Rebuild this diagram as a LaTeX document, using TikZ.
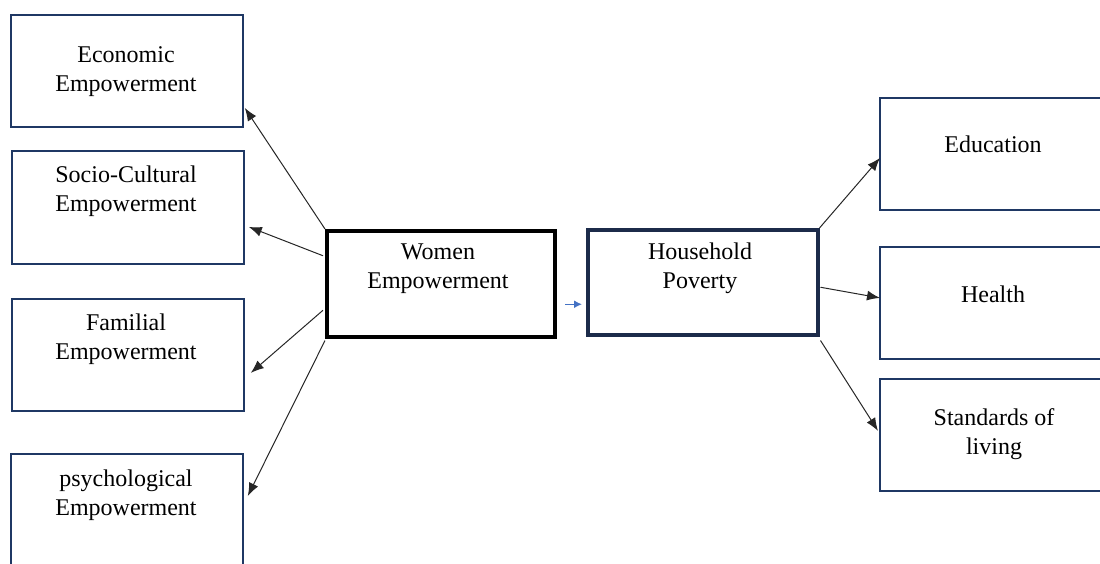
\documentclass[tikz,border=0pt]{standalone}
\usepackage{fontspec}
\setmainfont{Liberation Serif}
\usetikzlibrary{arrows.meta,calc}
\definecolor{navy}{HTML}{1F3864}
\definecolor{darknavy}{HTML}{1C2B4A}
\definecolor{arrowblue}{HTML}{4472C4}
\begin{document}
\begin{tikzpicture}[x=1pt,y=-1pt,
  box/.style={draw=navy, line width=1.8pt, inner sep=0pt, anchor=north west},
  bigbox/.style={inner sep=0pt, anchor=north west, line width=3.5pt},
  lbl/.style={align=center, inner sep=0pt, font=\fontsize{24}{29}\selectfont},
  arr/.style={draw=black!85, line width=1pt, -{Latex[length=13pt,width=10pt]}}]
\useasboundingbox (0,0) rectangle (1100,563);
\clip (0,0) rectangle (1100,563);
% left boxes
\node[box, minimum width=232pt, minimum height=112pt] (econ) at (10,14) {};
\node[box, minimum width=232pt, minimum height=113pt] (soc) at (11,150) {};
\node[box, minimum width=232pt, minimum height=112pt] (fam) at (11,298) {};
\node[box, minimum width=232pt, minimum height=140pt] (psy) at (10,453) {};
% centre boxes
\node[bigbox, draw=black, minimum width=228pt, minimum height=106pt] (women) at (325,229) {};
\node[bigbox, draw=darknavy, minimum width=230pt, minimum height=105pt] (house) at (586,228) {};
% right boxes
\node[box, minimum width=240pt, minimum height=112pt] (edu) at (879,97) {};
\node[box, minimum width=240pt, minimum height=112pt] (hea) at (879,246) {};
\node[box, minimum width=240pt, minimum height=112pt] (std) at (879,378) {};
% labels
\node[lbl] (econT) at (126,72) {Economic\\Empowerment};
\node[lbl] (socT) at (126,191) {Socio-Cultural\\Empowerment};
\node[lbl] (famT) at (126,339) {Familial\\Empowerment};
\node[lbl] (psyT) at (126,495) {psychological\\Empowerment};
\node[lbl] (womT) at (438,269) {Women\\Empowerment};
\node[lbl] (houT) at (700,268) {Household\\Poverty};
\node[lbl] (eduT) at (993,144) {Education};
\node[lbl] (heaT) at (993,294) {Health};
\node[lbl] (stdT) at (994,434) {Standards of\\living};
% arrows left
\draw[arr] (women.north west) -- ($(econ.east)+(1,37)$);
\draw[arr] ($(women.west)+(-2,-28)$) -- ($(soc.east)+(4,19.5)$);
\draw[arr] ($(women.west)+(-2,26.5)$) -- ($(fam.east)+(6,18)$);
\draw[arr] ($(women.south west)+(0,2)$) -- ($(psy.north east)+(4,43)$);
% blue arrow
\coordinate (bs) at ($(house.west)+(-21,22)$);
\draw[draw=arrowblue, line width=1.5pt, -{Latex[length=8pt,width=8pt]}] (bs) -- ($(house.west)+(-4,22)$);
% arrows right
\draw[arr] (house.north east) -- ($(edu.west)+(1,4)$);
\draw[arr] ($(house.east)+(1,5)$) -- ($(hea.west)+(1,-5)$);
\draw[arr] ($(house.south east)+(1,4)$) -- ($(std.west)+(-1,-4)$);
\end{tikzpicture}
\end{document}
